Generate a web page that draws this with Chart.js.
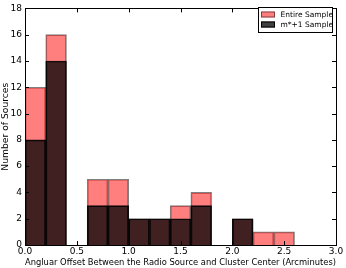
<!DOCTYPE html>
<html>
<head>
<meta charset="utf-8">
<script src="https://cdn.jsdelivr.net/npm/chart.js@4/dist/chart.umd.min.js"></script>
<style>
  html, body { margin: 0; padding: 0; background: #fff; }
  #wrap { width: 346px; height: 268px; position: relative; }
</style>
</head>
<body>
<div id="wrap"><canvas id="hist"></canvas></div>
<script>
// bins de 0.2 arcmin, centros
const binCenters = [0.1, 0.3, 0.5, 0.7, 0.9, 1.1, 1.3, 1.5, 1.7, 1.9, 2.1, 2.3, 2.5, 2.7, 2.9];
const entireSample = [12, 16, 0, 5, 5, 2, 2, 3, 4, 0, 2, 1, 1, 0, 0];
const mstarSample = [8, 14, 0, 3, 3, 2, 2, 2, 3, 0, 2, 0, 0, 0, 0];
const xTicks = [0.0, 0.5, 1.0, 1.5, 2.0, 2.5, 3.0];
const yTicks = [0, 2, 4, 6, 8, 10, 12, 14, 16, 18];

const font = 'DejaVu Sans';

const toPoints = (vals) => vals.map((v, i) => ({ x: binCenters[i], y: v }));

// marco, ticks hacia dentro y leyenda
const framePlugin = {
    id: 'frame',
    afterDraw(chart) {
        const ctx = chart.ctx;
        const a = chart.chartArea;
        const xs = chart.scales.x, ys = chart.scales.y;
        ctx.save();
        ctx.strokeStyle = '#000';
        ctx.lineWidth = 1;
        ctx.strokeRect(Math.round(a.left) + 0.5, Math.round(a.top) + 0.5,
            Math.round(a.right - a.left), Math.round(a.bottom - a.top));
        ctx.beginPath();
        xTicks.forEach(t => {
            const px = Math.round(xs.getPixelForValue(t)) + 0.5;
            ctx.moveTo(px, a.bottom); ctx.lineTo(px, a.bottom - 4);
            ctx.moveTo(px, a.top); ctx.lineTo(px, a.top + 4);
        });
        yTicks.forEach(t => {
            const py = Math.round(ys.getPixelForValue(t)) + 0.5;
            ctx.moveTo(a.left, py); ctx.lineTo(a.left + 4, py);
            ctx.moveTo(a.right, py); ctx.lineTo(a.right - 4, py);
        });
        ctx.stroke();

        // leyenda
        const bx = 258.5, by = 7.5, bw = 74, bh = 25;
        ctx.fillStyle = '#fff';
        ctx.fillRect(bx, by, bw, bh);
        ctx.strokeStyle = '#000';
        ctx.strokeRect(bx, by, bw, bh);
        const items = [
            { label: 'Entire Sample', fill: 'rgba(255,0,0,0.5)', edge: 'rgba(0,0,0,0.5)' },
            { label: 'm*+1 Sample', fill: 'rgba(0,0,0,0.75)', edge: 'rgba(0,0,0,1)' }
        ];
        ctx.font = '7.5px "' + font + '"';
        ctx.textBaseline = 'middle';
        items.forEach((it, i) => {
            const cy = 14.5 + i * 10;
            ctx.fillStyle = it.fill;
            ctx.fillRect(261, cy - 3, 14, 6);
            ctx.strokeStyle = it.edge;
            ctx.strokeRect(261.5, cy - 2.5, 13, 5);
            ctx.fillStyle = '#000';
            ctx.fillText(it.label, 280.5, cy + 0.5);
        });
        ctx.restore();
    }
};

const data_hist = {
    datasets: [
        {
            label: 'Entire Sample',
            data: toPoints(entireSample),
            backgroundColor: 'rgba(255, 0, 0, 0.5)',
            borderColor: 'rgba(0, 0, 0, 0.5)',
            borderWidth: 1,
            borderSkipped: 'start',
            barPercentage: 1,
            categoryPercentage: 1,
            grouped: false,
            order: 2
        },
        {
            label: 'm*+1 Sample',
            data: toPoints(mstarSample),
            backgroundColor: 'rgba(0, 0, 0, 0.75)',
            borderColor: 'rgba(0, 0, 0, 0.9)',
            borderWidth: 1,
            borderSkipped: 'start',
            barPercentage: 1,
            categoryPercentage: 1,
            grouped: false,
            order: 1
        }
    ]
};

const config_hist = {
    type: 'bar',
    data: data_hist,
    options: {
        responsive: false,
        animation: false,
        devicePixelRatio: 1,
        layout: { padding: { top: 5, right: 10, left: 0, bottom: 0 } },
        plugins: { legend: { display: false }, tooltip: { enabled: false } },
        scales: {
            x: {
                type: 'linear',
                min: 0,
                max: 3,
                offset: false,
                grid: { display: false, drawTicks: false },
                border: { display: false },
                afterBuildTicks: (s) => { s.ticks = xTicks.map(v => ({ value: v })); },
                afterFit: (s) => { s.height = 23; },
                ticks: {
                    padding: 1,
                    maxRotation: 0,
                    autoSkip: false,
                    color: '#000',
                    font: { family: font, size: 9 },
                    callback: (v) => Number(v).toFixed(1)
                },
                title: {
                    display: true,
                    text: 'Angluar Offset Between the Radio Source and Cluster Center (Arcminutes)',
                    color: '#000',
                    font: { family: font, size: 9 },
                    padding: { top: 0, bottom: 0 }
                }
            },
            y: {
                min: 0,
                max: 18,
                grid: { display: false, drawTicks: false },
                border: { display: false },
                afterBuildTicks: (s) => { s.ticks = yTicks.map(v => ({ value: v })); },
                afterFit: (s) => { s.width = 25; },
                ticks: {
                    padding: 3,
                    color: '#000',
                    font: { family: font, size: 9 }
                },
                title: {
                    display: true,
                    text: 'Number of Sources',
                    color: '#000',
                    font: { family: font, size: 9.2 },
                    padding: { top: 0, bottom: 0 }
                }
            }
        }
    },
    plugins: [framePlugin]
};

const cv = document.getElementById('hist');
cv.width = 346;
cv.height = 268;
new Chart(cv.getContext('2d'), config_hist);
</script>
</body>
</html>
